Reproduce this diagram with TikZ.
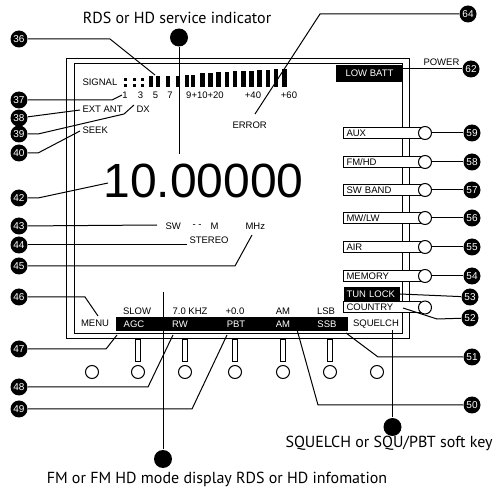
\documentclass[tikz,border=0pt]{standalone}
\usepackage{fontspec}
\setmainfont{Liberation Sans}
\newfontfamily\capfont{PT Sans}
\begin{document}
\begin{tikzpicture}[x=1pt,y=-1pt,line width=1pt,
  badge/.style={circle,fill=black,text=white,inner sep=0pt,minimum size=17pt,font=\fontsize{10}{10}\selectfont},
  lbl/.style={inner sep=0pt,font=\fontsize{9.5}{10}\selectfont},
  wlbl/.style={lbl,text=white},
  captxt/.style={inner sep=0pt,font=\capfont\fontsize{16}{18}\selectfont},
  sbtn/.style={draw,fill=white,minimum width=77pt,minimum height=11pt,inner xsep=3pt,inner ysep=0pt,anchor=west,font=\fontsize{9.5}{10}\selectfont,text width=71pt,align=left},
  knob/.style={circle,draw,fill=white,minimum size=13pt,inner sep=0pt},
  bigdot/.style={circle,fill=black,minimum size=18pt,inner sep=0pt},
]
\useasboundingbox (0,0) rectangle (499,492);

% frames
\draw (66,59) rectangle (409,339);
\draw (74,64) rectangle (402,334);

% low batt
\node[fill=black,text=white,minimum width=67pt,minimum height=17pt,inner sep=0pt,font=\fontsize{9.5}{10}\selectfont] (lowbatt) at (369.5,73.5) {LOW BATT};

% signal meter
\foreach \x in {124,133,141}{
  \fill (\x,78) rectangle ++(3,3);
  \fill (\x,84) rectangle ++(3,3);
}
\foreach \x in {149,156,166,176}{ \fill (\x,76) rectangle (\x+3.5,87); }
\foreach \x in {185,191}{ \fill (\x,75) rectangle (\x+3.5,87); }
\foreach \i in {0,...,10}{ \fill ({200+8.2*\i},{73-0.4*\i}) rectangle ({204.5+8.2*\i},87); }

\node[lbl,anchor=west] (signal) at (82,82) {SIGNAL};
\node[lbl] (n1) at (125,95.5) {1};
\node[lbl] (n3) at (140.5,95.5) {3};
\node[lbl] (n5) at (155.5,95.5) {5};
\node[lbl] (n7) at (170,95.5) {7};
\node[lbl] (n9) at (205,95.5) {9+10+20};
\node[lbl] (n40) at (253,95.5) {+40};
\node[lbl] (n60) at (289,95.5) {+60};

\node[lbl,anchor=west] (extant) at (82,109) {EXT ANT};
\node[lbl,anchor=west] (dx) at (136,109) {DX};
\node[lbl,anchor=west] (seek) at (82,130.5) {SEEK};
\node[lbl,anchor=west] (error) at (232,125) {ERROR};

% big frequency
\node[inner sep=0pt,anchor=base,font=\fontsize{48}{48}\selectfont] (freq) at (203.5,198) {10.00000};

\node[lbl,anchor=west] (sw) at (165,226) {SW};
\node[lbl,anchor=west] (dash) at (192,226) {- -};
\node[lbl,anchor=west] (mm) at (210,226) {M};
\node[lbl,anchor=west] (mhz) at (245,226) {MHz};
\node[lbl,anchor=west] (stereo) at (189,240.5) {STEREO};

% right soft buttons
\node[sbtn] (aux) at (343,133) {AUX};
\node[knob] (kaux) at (425,133) {};
\node[sbtn] (fmhd) at (343,162) {FM/HD};
\node[knob] (kfmhd) at (425,162) {};
\node[sbtn] (swband) at (343,190) {SW BAND};
\node[knob] (kswband) at (425,190) {};
\node[sbtn] (mwlw) at (343,218) {MW/LW};
\node[knob] (kmwlw) at (425,218) {};
\node[sbtn] (air) at (343,247) {AIR};
\node[knob] (kair) at (425,247) {};
\node[sbtn] (memory) at (343,276) {MEMORY};
\node[knob] (kmemory) at (425,276) {};
\node[fill=black,text=white,minimum width=56pt,minimum height=14pt,inner xsep=3pt,inner ysep=0pt,anchor=west,font=\fontsize{9.5}{10}\selectfont,text width=50pt,align=left] (tunlock) at (343,294) {TUN LOCK};
\node[sbtn] (country) at (343,307.5) {COUNTRY};
\node[knob] (kcountry) at (425,307.5) {};

% bottom bar
\node[fill=black,minimum width=232pt,minimum height=14pt,inner sep=0pt,anchor=north west] (bar) at (115,317) {};
\node[wlbl] (agc) at (134,324) {AGC};
\node[wlbl] (rw) at (180,324) {RW};
\node[wlbl] (pbt) at (236,324) {PBT};
\node[wlbl] (am) at (283,324) {AM};
\node[wlbl] (ssb) at (327,324) {SSB};
\node[lbl] (squelch) at (376,324) {SQUELCH};
\node[lbl] (menu) at (95,323.5) {MENU};
\node[lbl] (slow) at (137,311.5) {SLOW};
\node[lbl] (khz) at (190,311.5) {7.0 KHZ};
\node[lbl] (pz) at (235,311.5) {+0.0};
\node[lbl] (amt) at (283,311.5) {AM};
\node[lbl] (lsb) at (326,311.5) {LSB};

% bottom keys
\foreach \x in {138,185,235,283,330}{ \draw (\x-2.5,340) rectangle (\x+2.5,362); }
\foreach \x/\k in {92/k1,138/k2,185/k3,235/k4,283/k5,330/k6,377/k7}{ \node[knob] (\k) at (\x,372) {}; }

% captions
\node[captxt] (rdscap) at (177,18) {RDS or HD service indicator};
\node[bigdot] (rdsdot) at (179,37.5) {};
\coordinate (rdsend) at (179,154);
\draw (rdsdot) -- (rdsend);

\node[captxt] (sqcap) at (389,443.5) {SQUELCH or SQU/PBT soft key};
\node[bigdot] (sqdot) at (392.5,427) {};
\coordinate (sqtop) at (392.5,330);
\draw (sqtop) -- (sqdot);

\node[captxt] (fmcap) at (217,479) {FM or FM HD mode display RDS or HD infomation};
\node[bigdot] (fmdot) at (163,459) {};
\coordinate (fmtop) at (163,292);
\draw (fmtop) -- (fmdot);

% left badges
\node[badge] (b36) at (19,39) {36};
\node[badge] (b37) at (19,100) {37};
\node[badge] (b38) at (19,118) {38};
\node[badge] (b39) at (19,134) {39};
\node[badge] (b40) at (19,153) {40};
\node[badge] (b42) at (19,198) {42};
\node[badge] (b43) at (19,226) {43};
\node[badge] (b44) at (19,245) {44};
\node[badge] (b45) at (19,266) {45};
\node[badge] (b46) at (19,297) {46};
\node[badge] (b47) at (19,349) {47};
\node[badge] (b48) at (19,387) {48};
\node[badge] (b49) at (19,409) {49};

% right badges
\node[badge] (b64) at (468,14) {64};
\node[badge] (b62) at (471,69) {62};
\node[badge] (b59) at (472,133) {59};
\node[badge] (b58) at (472,162) {58};
\node[badge] (b57) at (472,190) {57};
\node[badge] (b56) at (472,218) {56};
\node[badge] (b55) at (472,247) {55};
\node[badge] (b54) at (472,276) {54};
\node[badge] (b53) at (470,297) {53};
\node[badge] (b52) at (470,318) {52};
\node[badge] (b51) at (472,357) {51};
\node[badge] (b50) at (472,405) {50};

\node[lbl,anchor=west] (power) at (423,62) {POWER};

% leader lines left
\draw (b36) -- (110,39) -- (155,75);
\draw (b37) -- (112,100) -- (122,95);
\draw (b38) -- (80,110);
\draw (b39) -- (38,134) -- (124,114) -- (134,105);
\draw (b40) -- (38,153) -- (80,131);
\draw (b42) -- (38,198) -- (108,183);
\draw (b43) -- (157,225);
\draw (b44) -- (187,245);
\draw (b45) -- (235,266) -- (252,235);
\draw (b46) -- (85,297) -- (98,316);
\draw (b47) -- (106,349) -- (117,335);
\draw (b48) -- (148,387) -- (173,335);
\draw (b49) -- (192,409) -- (227,335);

% leader lines right
\draw (b64) -- (320,14) -- (255,114);
\coordinate (pw) at (403,69);
\draw (pw) -- (b62);
\draw (kaux) -- (b59);
\draw (kfmhd) -- (b58);
\draw (kswband) -- (b57);
\draw (kmwlw) -- (b56);
\draw (kair) -- (b55);
\draw (kmemory) -- (b54);
\draw (tunlock.east) -- (b53);
\draw (b52) -- (437,319) -- (403,308);
\draw (b51) -- (378,357) -- (346,333);
\draw (b50) -- (318,405) -- (296,326);
\end{tikzpicture}
\end{document}
